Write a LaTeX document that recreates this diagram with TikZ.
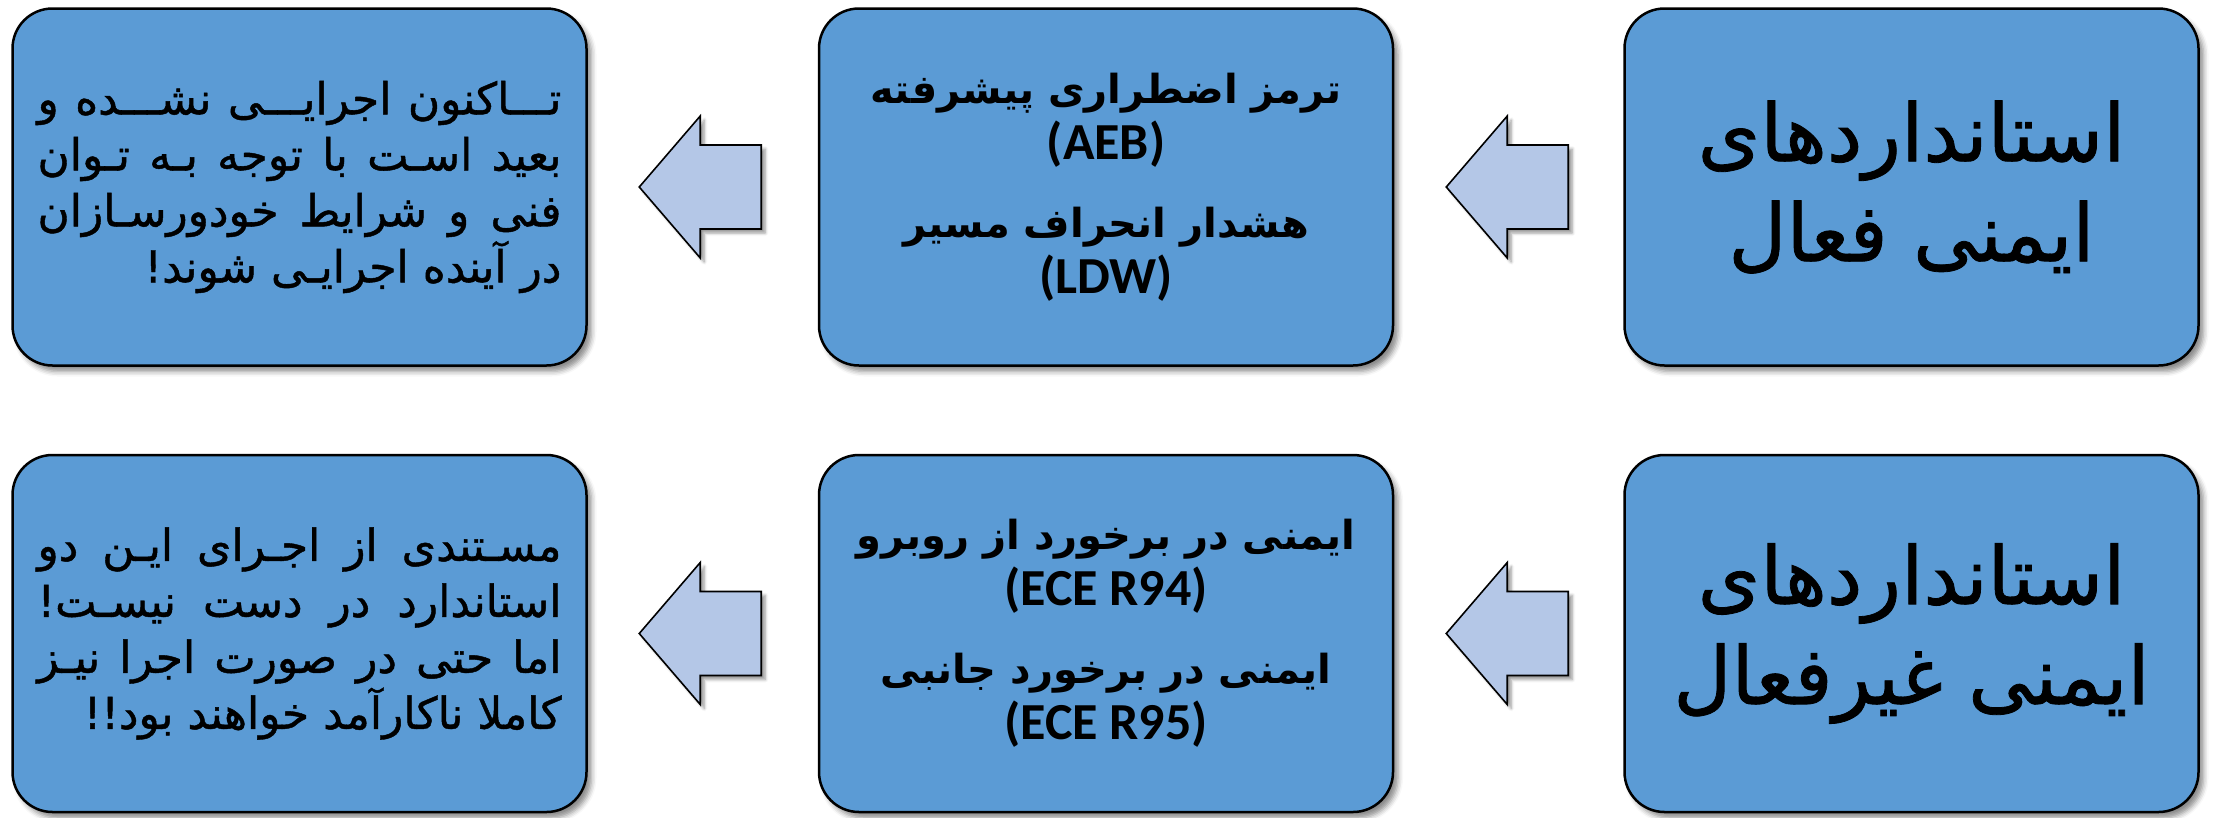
\documentclass[tikz,border=0pt]{standalone}
\usepackage{fontspec}
\usetikzlibrary{calc,shadows.blur}
\TeXXeTstate=1
\newfontfamily\fa[Script=Arabic]{DejaVu Sans}
\newfontfamily\faheavy[Script=Arabic,FakeBold=1]{DejaVu Sans}
\newfontfamily\lat{Carlito}
\definecolor{boxblue}{HTML}{5B9BD5}
\definecolor{arrowblue}{HTML}{B4C7E7}
\newlength\linew
\setlength\linew{524pt}
\newcommand\jline[1]{\hbox to \linew{\beginR #1\endR}}
\newcommand\rline[1]{\hbox to \linew{\hfill\beginR #1\endR}}
\newcommand\rtl[1]{\beginR #1\endR}
\newcommand\blockarr[1]{%
  \draw[blockarrow] (#1) -- ++(61,-71) -- ++(0,29) -- ++(61,0) -- ++(0,84)
    -- ++(-61,0) -- ++(0,29) -- cycle;}
\begin{document}
\begin{tikzpicture}[x=1pt,y=-1pt,
  box/.style={draw=black, line width=2.5pt, fill=boxblue, rounded corners=40pt,
    minimum width=574pt, minimum height=357pt, inner sep=0pt, align=center,
    text=black,
    blur shadow={shadow xshift=5pt, shadow yshift=-6pt, shadow blur radius=5pt, shadow opacity=45}},
  blockarrow/.style={draw=black, line width=1.6pt, fill=arrowblue, line join=miter,
    blur shadow={shadow xshift=4pt, shadow yshift=-4pt, shadow blur radius=3pt, shadow opacity=40}},
  sidetext/.style={font=\faheavy\fontsize{44}{56}\selectfont},
  midtext/.style={font=\fa\bfseries\fontsize{40}{56}\selectfont},
  bigtext/.style={font=\faheavy\fontsize{80}{100}\selectfont}
]
\useasboundingbox (0,0) rectangle (2215,817);

% top row
\node[box, sidetext] (tl) at (299.5,187) {%
  \jline{تـــاکنون اجرایـــی نشـــده و}\\
  \jline{بعید اسـت با توجه بـه تـوان}\\
  \jline{فنی و شرایط خودورسـازان}\\
  \rline{در آینده اجرایـی شوند!}};
\node[box, midtext] (tm) at (1106,187) {%
  \rtl{ترمز اضطراری پیشرفته}\\
  {\lat\bfseries\fontsize{52}{56}\selectfont (AEB)}\\[22pt]
  \rtl{هشدار انحراف مسیر}\\
  {\lat\bfseries\fontsize{52}{56}\selectfont (LDW)}};
\node[box, bigtext] (tr) at (1911.5,187) {%
  \rtl{استانداردهای}\\
  \rtl{ایمنی فعال}};

% bottom row
\node[box, sidetext] (bl) at (299.5,633.5) {%
  \jline{مسـتندی از اجـرای ایـن دو}\\
  \jline{استاندارد در دست نیسـت!}\\
  \jline{اما حتی در صورت اجرا نیـز}\\
  \rline{کاملا ناکارآمد خواهند بود!!}};
\node[box, midtext] (bm) at (1106,633.5) {%
  \rtl{ایمنی در برخورد از روبرو}\\
  {\lat\bfseries\fontsize{52}{56}\selectfont (ECE R94)}\\[22pt]
  \rtl{ایمنی در برخورد جانبی}\\
  {\lat\bfseries\fontsize{52}{56}\selectfont (ECE R95)}};
\node[box, bigtext] (br) at (1911.5,633.5) {%
  \rtl{استانداردهای}\\
  \rtl{ایمنی غیرفعال}};

% arrows
\coordinate (a1) at ($(tl.east)+(51.5,0)$);
\coordinate (a2) at ($(tm.east)+(52,0)$);
\coordinate (a3) at ($(bl.east)+(51.5,0)$);
\coordinate (a4) at ($(bm.east)+(52,0)$);
\blockarr{a1}
\blockarr{a2}
\blockarr{a3}
\blockarr{a4}
\end{tikzpicture}
\end{document}
